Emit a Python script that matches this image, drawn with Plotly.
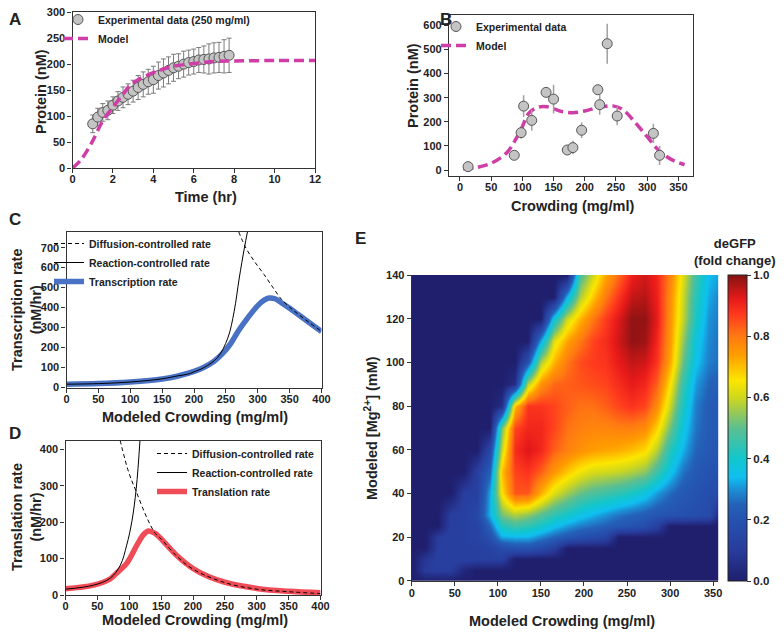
import plotly.graph_objects as go

# The page body has an 8px margin, so the figure is 776x626 and every
# layout position below is given in page pixels and shifted by OFF.
OFF = 8
W, H = 784 - OFF, 634 - OFF
FONT = "Liberation Sans, Arial, sans-serif"

# ---------------- Panel A data ----------------
time_hr = [1.0, 1.25, 1.5, 1.75, 2.0, 2.25, 2.5, 2.75, 3.0, 3.25, 3.5, 3.75, 4.0, 4.25,
           4.5, 4.75, 5.0, 5.25, 5.5, 5.75, 6.0, 6.25, 6.5, 6.75, 7.0, 7.25, 7.5, 7.75]
protein_a = [85, 98, 107, 111, 121, 129, 136, 142, 148, 155, 161, 166, 170, 178,
             183, 188, 193, 196, 200, 203, 205, 208, 209, 210, 212, 213, 215, 217]
err_a = [17, 17, 17, 18, 16, 18, 20, 20, 21, 23, 24, 24, 26, 26,
         27, 26, 26, 24, 25, 24, 24, 24, 26, 29, 29, 29, 32, 33]
model_a_t = [0, 0.4, 0.94, 1.5, 2.0, 2.5, 2.84, 3.25, 3.66, 4.32, 5.0, 6.0, 7.0, 8.0, 10, 12]
model_a_v = [0, 15, 48, 91, 117, 142, 159, 170, 178, 188, 196, 201, 205, 206, 207, 207]

# ---------------- Panel B data ----------------
crowd_b = [13, 87, 98, 102, 115, 138, 150, 172, 181, 195, 221, 224, 236, 252, 310, 320]
protein_b = [14, 61, 155, 265, 206, 322, 294, 83, 93, 165, 333, 271, 524, 224, 152, 61]
err_b = [5, 8, 25, 45, 43, 17, 60, 15, 28, 32, 20, 42, 83, 38, 40, 40]
model_b_x = [5, 25, 50, 75, 90, 100, 110, 125, 140, 160, 180, 200, 220, 245, 260, 280, 300, 320, 340, 360]
model_b_v = [5, 10, 28, 72, 130, 180, 235, 260, 262, 245, 238, 245, 258, 266, 252, 200, 138, 78, 42, 22]

# ---------------- Panel C data ----------------
c_tx_x = [0, 50, 100, 150, 175, 200, 215, 231, 245, 258, 270, 284, 300, 310, 318, 327, 337, 350, 363, 380, 400]
c_tx_v = [16, 19, 27, 42, 57, 80, 100, 130, 170, 222, 285, 347, 410, 437, 448, 444, 424, 396, 366, 326, 280]
c_react_x = [0, 50, 100, 150, 175, 190, 200, 216, 237, 253, 263, 271, 279, 284]
c_react_v = [16, 19, 27, 43, 58, 66, 78, 100, 150, 247, 381, 548, 698, 782]
c_diff_x = [270, 281.5, 295, 310, 325, 337, 350, 363, 380, 400]
c_diff_v = [780, 698, 630, 565, 495, 442, 402, 368, 327, 281]

# ---------------- Panel D data ----------------
d_tl_x = [0, 44, 70, 80, 96, 112, 122, 130, 140, 149, 175, 200, 225, 250, 300, 350, 400]
d_tl_v = [17, 27, 44, 60, 87, 137, 165, 176, 170, 156, 108, 73, 50, 35, 18, 10, 6]
d_react_x = [0, 44, 70, 86, 96, 104, 111, 117]
d_react_v = [16, 27, 46, 82, 137, 201, 293, 430]
d_diff_x = [85.7, 99, 111, 128, 141, 150, 175, 200, 250, 300, 350, 400]
d_diff_v = [425, 338, 284, 211, 169, 154, 106, 71, 34, 16, 9, 4]

# ---------------- Panel E data ----------------
e_crowd = [0, 15, 30, 45, 60, 75, 90, 105, 120, 135, 150, 165, 180, 195, 210, 225,
           240, 255, 270, 285, 300, 315, 330, 345, 360]
e_mg = [0, 5, 10, 15, 20, 25, 30, 40, 50, 60, 70, 80, 90, 100, 110, 120, 130, 140]
e_degfp = [
    [0] * 25,
    [0, 0.1, 0.11, 0.11, 0.03, 0, 0, 0, 0, 0, 0, 0, 0, 0, 0, 0, 0, 0, 0, 0, 0, 0, 0, 0, 0],
    [0, 0.08, 0.12, 0.12, 0.12, 0.12, 0.12, 0.12, 0, 0, 0, 0, 0, 0, 0, 0, 0, 0, 0, 0, 0, 0, 0, 0, 0],
    [0, 0, 0.11, 0.12, 0.12, 0.12, 0.13, 0.17, 0.2, 0.2, 0.17, 0.12, 0, 0, 0, 0, 0, 0, 0, 0, 0, 0, 0, 0, 0],
    [0, 0, 0.1, 0.12, 0.12, 0.13, 0.19, 0.32, 0.33, 0.33, 0.29, 0.25, 0.22, 0.19, 0.17, 0.14, 0, 0, 0, 0, 0, 0, 0, 0, 0],
    [0, 0, 0, 0.12, 0.12, 0.13, 0.25, 0.42, 0.46, 0.44, 0.4, 0.35, 0.31, 0.28, 0.26, 0.24, 0.22, 0.2, 0.18, 0.12, 0, 0, 0, 0, 0],
    [0, 0, 0, 0.11, 0.12, 0.15, 0.33, 0.52, 0.57, 0.54, 0.49, 0.44, 0.4, 0.36, 0.33, 0.3, 0.27, 0.25, 0.23, 0.21, 0.2, 0.19, 0.18, 0.17, 0],
    [0, 0, 0, 0, 0.11, 0.12, 0.32, 0.66, 0.84, 0.84, 0.72, 0.62, 0.56, 0.51, 0.48, 0.46, 0.44, 0.41, 0.37, 0.31, 0.26, 0.22, 0.2, 0.18, 0.17],
    [0, 0, 0, 0, 0, 0.12, 0.24, 0.7, 0.86, 0.88, 0.83, 0.75, 0.69, 0.64, 0.61, 0.6, 0.59, 0.57, 0.54, 0.46, 0.36, 0.27, 0.22, 0.2, 0.19],
    [0, 0, 0, 0, 0, 0, 0.15, 0.6, 0.89, 0.93, 0.9, 0.83, 0.79, 0.76, 0.74, 0.73, 0.72, 0.7, 0.67, 0.58, 0.43, 0.33, 0.25, 0.22, 0.21],
    [0, 0, 0, 0, 0, 0, 0, 0.52, 0.86, 0.9, 0.9, 0.86, 0.81, 0.79, 0.78, 0.78, 0.79, 0.79, 0.77, 0.68, 0.52, 0.37, 0.27, 0.23, 0.22],
    [0, 0, 0, 0, 0, 0, 0, 0.05, 0.7, 0.88, 0.88, 0.86, 0.83, 0.81, 0.81, 0.83, 0.86, 0.88, 0.86, 0.77, 0.6, 0.41, 0.28, 0.23, 0.22],
    [0, 0, 0, 0, 0, 0, 0, 0, 0.05, 0.58, 0.76, 0.82, 0.83, 0.84, 0.85, 0.86, 0.89, 0.92, 0.9, 0.83, 0.66, 0.45, 0.31, 0.25, 0.24],
    [0, 0, 0, 0, 0, 0, 0, 0, 0, 0.2, 0.57, 0.71, 0.8, 0.85, 0.87, 0.88, 0.92, 0.95, 0.94, 0.88, 0.73, 0.51, 0.35, 0.28, 0.26],
    [0, 0, 0, 0, 0, 0, 0, 0, 0, 0, 0.32, 0.62, 0.73, 0.8, 0.86, 0.89, 0.94, 0.99, 0.98, 0.9, 0.75, 0.55, 0.37, 0.29, 0.26],
    [0, 0, 0, 0, 0, 0, 0, 0, 0, 0, 0, 0.38, 0.6, 0.71, 0.8, 0.87, 0.93, 0.99, 0.99, 0.92, 0.76, 0.59, 0.41, 0.3, 0.27],
    [0, 0, 0, 0, 0, 0, 0, 0, 0, 0, 0, 0, 0.33, 0.57, 0.69, 0.8, 0.88, 0.95, 0.96, 0.91, 0.77, 0.6, 0.43, 0.32, 0.28],
    [0, 0, 0, 0, 0, 0, 0, 0, 0, 0, 0, 0, 0, 0.47, 0.6, 0.73, 0.82, 0.91, 0.94, 0.9, 0.79, 0.62, 0.46, 0.34, 0.31],
]

MAGENTA = "#cf3ea6"
BLUE = "#4a72c4"
RED = "#f04c58"


def fx(p):
    return (p - OFF) / W


def fy(p):
    return 1 - (p - OFF) / H


fig = go.Figure()

# A
fig.add_trace(go.Scatter(
    x=time_hr, y=protein_a, mode="markers", name="Experimental data (250 mg/ml)",
    marker=dict(size=10, color="#c4c4c4", line=dict(color="#555555", width=1)),
    error_y=dict(type="data", array=err_a, color="#7a7a7a", thickness=1, width=2.5),
    xaxis="x", yaxis="y", legend="legend"))
fig.add_trace(go.Scatter(
    x=model_a_t, y=model_a_v, mode="lines", name="Model", line_shape="spline",
    line=dict(color=MAGENTA, width=3.5, dash="10px,5px"),
    xaxis="x", yaxis="y", legend="legend"))

# B
fig.add_trace(go.Scatter(
    x=model_b_x, y=model_b_v, mode="lines", name="Model", line_shape="spline",
    line=dict(color=MAGENTA, width=3.5, dash="10px,5px"),
    xaxis="x2", yaxis="y2", legend="legend2", legendrank=2))
fig.add_trace(go.Scatter(
    x=crowd_b, y=protein_b, mode="markers", name="Experimental data",
    marker=dict(size=10, color="#c4c4c4", line=dict(color="#555555", width=1)),
    error_y=dict(type="data", array=err_b, color="#a0a0a0", thickness=1.5, width=0),
    xaxis="x2", yaxis="y2", legend="legend2", legendrank=1))

# C
fig.add_trace(go.Scatter(
    x=c_tx_x, y=c_tx_v, mode="lines", name="Transcription rate", line_shape="spline",
    line=dict(color=BLUE, width=5.5), xaxis="x3", yaxis="y3", legend="legend3", legendrank=3))
fig.add_trace(go.Scatter(
    x=c_diff_x, y=c_diff_v, mode="lines", name="Diffusion-controlled rate", line_shape="spline",
    line=dict(color="black", width=1, dash="4px,3px"), xaxis="x3", yaxis="y3", legend="legend3", legendrank=1))
fig.add_trace(go.Scatter(
    x=c_react_x, y=c_react_v, mode="lines", name="Reaction-controlled rate", line_shape="spline",
    line=dict(color="black", width=1), xaxis="x3", yaxis="y3", legend="legend3", legendrank=2))

# D
fig.add_trace(go.Scatter(
    x=d_tl_x, y=d_tl_v, mode="lines", name="Translation rate", line_shape="spline",
    line=dict(color=RED, width=5.5), xaxis="x4", yaxis="y4", legend="legend4", legendrank=3))
fig.add_trace(go.Scatter(
    x=d_diff_x, y=d_diff_v, mode="lines", name="Diffusion-controlled rate", line_shape="spline",
    line=dict(color="black", width=1, dash="4px,3px"), xaxis="x4", yaxis="y4", legend="legend4", legendrank=1))
fig.add_trace(go.Scatter(
    x=d_react_x, y=d_react_v, mode="lines", name="Reaction-controlled rate", line_shape="spline",
    line=dict(color="black", width=1), xaxis="x4", yaxis="y4", legend="legend4", legendrank=2))

# E
colorscale = [
    [0.0, "#1f1f6e"], [0.1, "#283c9c"], [0.2, "#2552b0"], [0.25, "#2462b8"],
    [0.3, "#1c90d6"], [0.34, "#0fc0f0"], [0.4, "#12c6cc"], [0.5, "#5cbf90"],
    [0.56, "#a2cb4c"], [0.6, "#cfd81c"], [0.655, "#fce600"], [0.74, "#ff9c00"],
    [0.8, "#ff7a12"], [0.87, "#ff3a1e"], [0.92, "#e81a1a"], [1.0, "#861212"],
]
fig.add_trace(go.Heatmap(
    x=e_crowd, y=e_mg, z=e_degfp, zmin=0, zmax=1, zsmooth="best",
    colorscale=colorscale, xaxis="x5", yaxis="y5", showlegend=False,
    colorbar=dict(
        x=fx(728), xanchor="left", xref="paper", xpad=0, ypad=0,
        y=fy(581), yanchor="bottom", len=306 / H, lenmode="fraction",
        thickness=19, outlinewidth=1, outlinecolor="#222",
        tickvals=[0, 0.2, 0.4, 0.6, 0.8, 1.0], tickformat=".1f",
        ticks="outside", ticklen=4, tickcolor="#333",
        ticklabeloverflow="allow",
        tickfont=dict(family=FONT, size=11.5, color="#222", weight="bold"),
    )))

tickfont = dict(family=FONT, size=11, color="#222", weight="bold")


def ax(domain, rng, dtick, anchor, mirror=True, showline=True, standoff=0):
    return dict(domain=domain, range=rng, dtick=dtick, tick0=0, anchor=anchor,
                showgrid=False, zeroline=False, showline=showline, mirror=mirror,
                automargin=False, ticklabeloverflow="allow", ticklabelstandoff=standoff,
                linecolor="#333", linewidth=1.2, ticks="outside", ticklen=4,
                tickwidth=1, tickcolor="#333", tickfont=tickfont)


layout = dict(
    width=W, height=H, autosize=False,
    margin=dict(l=0, r=0, t=0, b=0, pad=0, autoexpand=False),
    paper_bgcolor="white", plot_bgcolor="white",
    font=dict(family=FONT, color="#222"),
    xaxis=ax([fx(72.5), fx(315)], [0, 12], 2, "y", standoff=-3),
    yaxis=ax([fy(168), fy(12.2)], [0, 300], 50, "x"),
    xaxis2=ax([fx(449), fx(693.3)], [-17.6, 374], 50, "y2", standoff=-3),
    yaxis2=ax([fy(175.7), fy(15)], [-23.6, 643], 100, "x2"),
    xaxis3=ax([fx(66.5), fx(321.5)], [0, 400], 50, "y3", standoff=-3),
    yaxis3=ax([fy(388), fy(231.7)], [-3, 780], 100, "x3"),
    xaxis4=ax([fx(65.5), fx(320.5)], [0, 400], 50, "y4", standoff=-3),
    yaxis4=ax([fy(595), fy(440.7)], [0, 424], 100, "x4"),
    xaxis5=ax([fx(411.7), fx(718.3)], [0, 356], 50, "y5", mirror=False, standoff=-2),
    yaxis5=ax([fy(580.7), fy(275)], [0, 140], 20, "x5", mirror=False),
)

legfont = dict(family=FONT, size=10.5, color="#222", weight="bold")


def leg(xp, yp):
    return dict(x=fx(xp), y=fy(yp), xanchor="left", yanchor="top",
                bgcolor="rgba(0,0,0,0)", borderwidth=0, font=legfont,
                tracegroupgap=0, itemwidth=30, traceorder="normal")


layout["legend"] = leg(58, 5)
layout["legend2"] = leg(436, 12)
layout["legend3"] = leg(49, 229)
layout["legend4"] = leg(152, 439)

title_font = dict(family=FONT, size=14.5, color="#222", weight="bold")
label_font = dict(family=FONT, size=17, color="#222", weight="bold")


def ann(text, xp, yp, font, angle=0, yanchor="middle"):
    return dict(text=text, x=fx(xp), y=fy(yp), xref="paper", yref="paper",
                xanchor="center", yanchor=yanchor, showarrow=False,
                font=font, textangle=angle)


annotations = [
    ann("A", 15, 8.5, label_font, yanchor="top"), ann("B", 446, 8.5, label_font, yanchor="top"),
    ann("C", 15, 219, label_font), ann("D", 15, 433, label_font),
    ann("E", 360, 238, label_font),
    ann("Time (hr)", 206, 197, title_font),
    ann("Protein (nM)", 41, 92, title_font, -90),
    ann("Crowding (mg/ml)", 572, 206, title_font),
    ann("Protein (nM)", 413, 86, title_font, -90),
    ann("Modeled Crowding (mg/ml)", 195, 417, title_font),
    ann("Transcription rate<br>(nM/hr)", 27, 310, title_font, -90),
    ann("Modeled Crowding (mg/ml)", 195, 620, title_font),
    ann("Translation rate<br>(nM/hr)", 26, 517, title_font, -90),
    ann("Modeled Crowding (mg/ml)", 562, 621, title_font),
    ann("Modeled [Mg<sup>2+</sup>] (mM)", 371, 428, title_font, -90),
    ann("deGFP<br>(fold change)", 735, 252, dict(family=FONT, size=13, color="#222", weight="bold")),
]
layout["annotations"] = annotations

fig.update_layout(**layout)
fig.write_html("out.html")
